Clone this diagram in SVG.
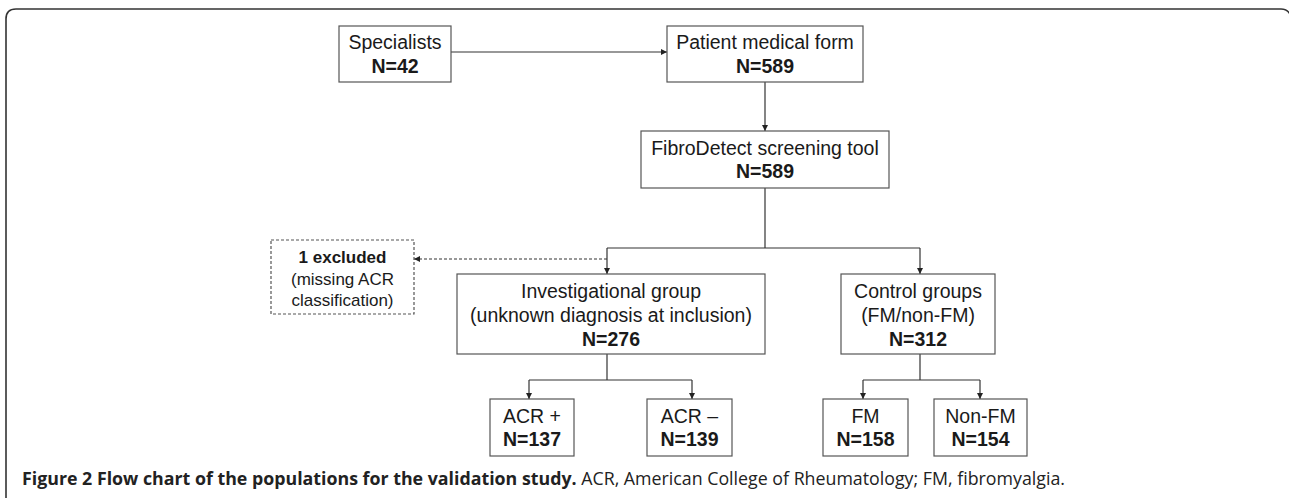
<svg xmlns="http://www.w3.org/2000/svg" width="1289" height="498" viewBox="0 0 1289 498">
<defs>
<marker id="ah" viewBox="0 0 10 10" refX="10" refY="5" markerWidth="6" markerHeight="6" markerUnits="userSpaceOnUse" orient="auto">
<path d="M0,0 L10,5 L0,10 z" fill="#222"/>
</marker>
<style>
.box{fill:#fff;stroke:#555;stroke-width:1.2}
.dbox{fill:#fff;stroke:#555;stroke-width:1.2;stroke-dasharray:3 2}
.t{font-family:"Liberation Sans",Arial,sans-serif;font-size:19.5px;fill:#1a1a1a;text-anchor:middle}
.b{font-weight:bold}
.s{font-family:"Liberation Sans",Arial,sans-serif;font-size:17px;fill:#1a1a1a;text-anchor:middle}
.ln{fill:none;stroke:#333;stroke-width:1.2}
.dl{fill:none;stroke:#333;stroke-width:1.2;stroke-dasharray:3 2}
.cap{font-family:"Open Sans",sans-serif;font-size:17.8px;fill:#222}
</style>
</defs>
<rect width="1289" height="498" fill="#fff"/>
<path d="M6,510 L6,19 Q6,9 16,9 L1281,9 Q1288,9 1291,16 L1291,510" fill="none" stroke="#333" stroke-width="1.6"/>

<g id="connectors">
<line class="ln" x1="451" y1="52" x2="667" y2="52" marker-end="url(#ah)"/>
<line class="ln" x1="765" y1="82" x2="765" y2="131" marker-end="url(#ah)"/>
<path class="ln" d="M765,188 L765,248"/>
<path class="ln" d="M607,248 L920,248"/>
<line class="ln" x1="607" y1="248" x2="607" y2="274" marker-end="url(#ah)"/>
<line class="ln" x1="920" y1="248" x2="920" y2="274" marker-end="url(#ah)"/>
<line class="dl" x1="607" y1="259" x2="414" y2="259" marker-end="url(#ah)"/>
<path class="ln" d="M607,354 L607,380"/>
<path class="ln" d="M529,380 L692,380"/>
<line class="ln" x1="529" y1="380" x2="529" y2="399" marker-end="url(#ah)"/>
<line class="ln" x1="692" y1="380" x2="692" y2="399" marker-end="url(#ah)"/>
<path class="ln" d="M920,354 L920,380"/>
<path class="ln" d="M863,380 L980,380"/>
<line class="ln" x1="863" y1="380" x2="863" y2="399" marker-end="url(#ah)"/>
<line class="ln" x1="980" y1="380" x2="980" y2="399" marker-end="url(#ah)"/>
</g>

<g id="specialists">
<rect class="box" x="339" y="26" width="112" height="56"/>
<text class="t" x="395" y="49">Specialists</text>
<text class="t b" x="395" y="73">N=42</text>
</g>
<g id="patient">
<rect class="box" x="667" y="26" width="196" height="56"/>
<text class="t" x="765" y="49">Patient medical form</text>
<text class="t b" x="765" y="73">N=589</text>
</g>
<g id="fibrodetect">
<rect class="box" x="641" y="131" width="248" height="57"/>
<text class="t" x="765" y="155">FibroDetect screening tool</text>
<text class="t b" x="765" y="178">N=589</text>
</g>
<g id="excluded">
<rect class="dbox" x="271" y="240" width="143" height="74"/>
<text class="s b" x="342.5" y="263">1 excluded</text>
<text class="s" x="342.5" y="285">(missing ACR</text>
<text class="s" x="342.5" y="306">classification)</text>
</g>
<g id="investigational">
<rect class="box" x="457" y="274" width="308" height="80"/>
<text class="t" x="611" y="298">Investigational group</text>
<text class="t" x="611" y="322">(unknown diagnosis at inclusion)</text>
<text class="t b" x="611" y="346">N=276</text>
</g>
<g id="control">
<rect class="box" x="841" y="274" width="154" height="80"/>
<text class="t" x="918" y="298">Control groups</text>
<text class="t" x="918" y="322">(FM/non-FM)</text>
<text class="t b" x="918" y="346">N=312</text>
</g>
<g id="acrplus">
<rect class="box" x="490" y="399" width="84" height="57"/>
<text class="t" x="532" y="423">ACR +</text>
<text class="t b" x="532" y="446">N=137</text>
</g>
<g id="acrminus">
<rect class="box" x="647" y="399" width="85" height="57"/>
<text class="t" x="689.5" y="423">ACR –</text>
<text class="t b" x="689.5" y="446">N=139</text>
</g>
<g id="fm">
<rect class="box" x="823" y="399" width="85" height="57"/>
<text class="t" x="865.5" y="423">FM</text>
<text class="t b" x="865.5" y="446">N=158</text>
</g>
<g id="nonfm">
<rect class="box" x="934" y="399" width="93" height="57"/>
<text class="t" x="980.5" y="423">Non-FM</text>
<text class="t b" x="980.5" y="446">N=154</text>
</g>

<text class="cap" x="22" y="485"><tspan font-weight="bold">Figure 2 Flow chart of the populations for the validation study.</tspan> ACR, American College of Rheumatology; FM, fibromyalgia.</text>
</svg>
